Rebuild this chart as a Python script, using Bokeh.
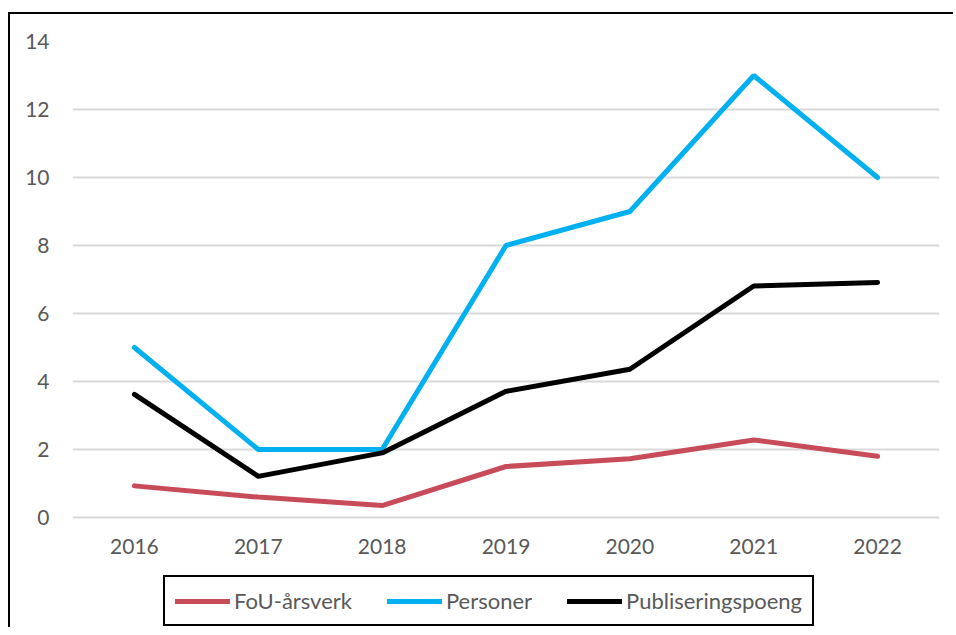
from bokeh.plotting import figure
from bokeh.models import FactorRange, Range1d, Legend, LegendItem
from bokeh.embed import file_html
from bokeh.resources import INLINE

years = ["2016", "2017", "2018", "2019", "2020", "2021", "2022"]
fou_arsverk = [0.93, 0.60, 0.35, 1.50, 1.73, 2.28, 1.80]
personer = [5, 2, 2, 8, 9, 13, 10]
publiseringspoeng = [3.62, 1.21, 1.90, 3.71, 4.36, 6.81, 6.91]
y_ticks = [0, 2, 4, 6, 8, 10, 12, 14]

FONT = "Lato"
TXT = "#595959"
FS = "21px"

# frame: 34 px per unit; extends 110 px below zero to hold axis labels and legend
p = figure(width=945, height=615, x_range=FactorRange(*years, range_padding=0),
           y_range=Range1d(-110 / 34, 14), output_backend="svg", toolbar_location=None,
           min_border_left=62, min_border_right=16, min_border_top=27, min_border_bottom=2)
p.margin = (12, 0, 0, 8)
p.styles = {"border-left": "2px solid black", "border-top": "2px solid black"}
p.outline_line_color = None
p.background_fill_color = "white"
p.border_fill_color = "white"

p.xgrid.grid_line_color = None
p.ygrid.grid_line_color = "#D9D9D9"
p.ygrid.grid_line_width = 2
p.yaxis.ticker = y_ticks
p.xaxis.fixed_location = 0

for ax in (p.xaxis, p.yaxis):
    ax.axis_line_color = None
    ax.major_tick_line_color = None
    ax.minor_tick_line_color = None
    ax.major_tick_out = 0
    ax.major_tick_in = 0
    ax.major_label_text_font = FONT
    ax.major_label_text_font_size = FS
    ax.major_label_text_color = TXT
p.yaxis.major_label_standoff = 23
p.xaxis.major_label_standoff = 21

r_fou = p.line(years, fou_arsverk, line_color="#C84B5A", line_width=5, line_cap="round")
r_per = p.line(years, personer, line_color="#00B0F0", line_width=5, line_cap="round")
r_pub = p.line(years, publiseringspoeng, line_color="#000000", line_width=5, line_cap="round")

legend = Legend(items=[LegendItem(label="FoU-årsverk", renderers=[r_fou]),
                       LegendItem(label="Personer", renderers=[r_per]),
                       LegendItem(label="Publiseringspoeng", renderers=[r_pub])],
                orientation="horizontal", location=(91, 1), margin=0,
                label_text_font=FONT, label_text_font_size="22px", label_text_color=TXT,
                glyph_width=55, glyph_height=24, label_height=24, label_standoff=4,
                spacing=35, padding=10, border_line_color="black", border_line_width=2,
                border_line_alpha=1, background_fill_alpha=0)
p.add_layout(legend, "center")

open("out.html", "w").write(file_html(p, INLINE))
